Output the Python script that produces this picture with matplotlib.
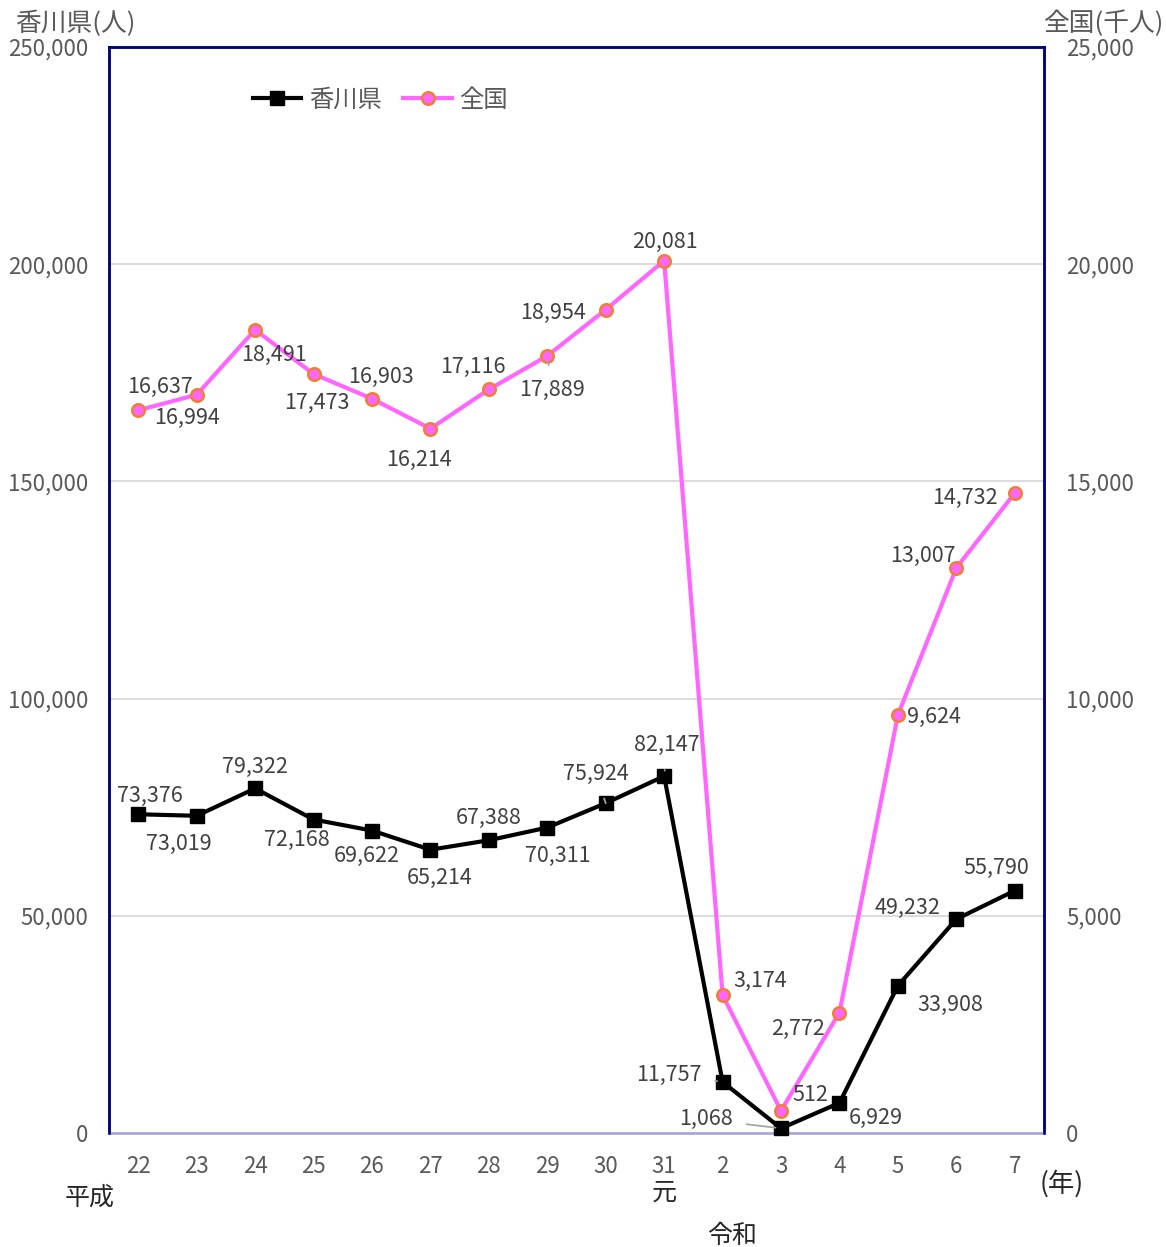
import matplotlib
matplotlib.use("Agg")
import matplotlib.pyplot as plt
import numpy as np

plt.rcParams['font.family'] = ['Noto Sans CJK JP', 'DejaVu Sans']

years = ["22", "23", "24", "25", "26", "27", "28", "29", "30", "31", "2", "3", "4", "5", "6", "7"]
kagawa = [73376, 73019, 79322, 72168, 69622, 65214, 67388, 70311, 75924, 82147,
          11757, 1068, 6929, 33908, 49232, 55790]
zenkoku = [16637, 16994, 18491, 17473, 16903, 16214, 17116, 17889, 18954, 20081,
           3174, 512, 2772, 9624, 13007, 14732]

# label offsets in pixels (dx, dy with dy positive = up), leader flag
k_off = [(12, 18, 0), (-18, -28, 0), (0, 21, 0), (-17, -20, 0), (-5, -25, 0), (9, -28, 0),
         (0, 22, 0), (10, -28, 0), (-10, 29, 1), (3, 31, 1), (-54, 7, 1), (-75, 9, 1),
         (36, -15, 0), (52, -19, 0), (-49, 11, 0), (-19, 23, 0)]
z_off = [(22, 23, 0), (-10, -23, 0), (19, -25, 0), (3, -29, 0), (9, 22, 0), (-11, -31, 0),
         (-16, 23, 0), (5, -34, 1), (-53, -3, 0), (1, 19, 0), (38, 14, 0), (29, 16, 0),
         (-42, -16, 0), (36, -2, 0), (-33, 12, 0), (-50, -5, 0)]

W, H = 1166, 1247
fig = plt.figure(figsize=(W / 100, H / 100), dpi=100)
L, R, T, B = 109, 1044, 47, 1133
ax = fig.add_axes([L / W, 1 - B / H, (R - L) / W, (B - T) / H])
ax2 = ax.twinx()

x = np.arange(len(years))
lab_color = '#404040'
tick_color = '#595959'
fs = 15.5
tfs = 16

ax.plot(x, kagawa, color='black', lw=3, marker='s', ms=10, zorder=5, label='香川県', clip_on=False)
ax2.plot(x, zenkoku, color='#ff66ff', lw=3, marker='o', ms=9, mfc='#ff66ff', mec='#f08030',
         mew=1.8, zorder=5, label='全国', clip_on=False)

ax.set_ylim(0, 250000)
ax2.set_ylim(0, 25000)
ax.set_xlim(-0.5, len(years) - 0.5)
ax.set_yticks(np.arange(0, 250001, 50000))
ax2.set_yticks(np.arange(0, 25001, 5000))
ax.set_yticklabels([f"{v:,}" for v in range(0, 250001, 50000)])
ax2.set_yticklabels([f"{v:,}" for v in range(0, 25001, 5000)])
ax.set_xticks(x)
ax.set_xticklabels(years)
ax.tick_params(axis='x', length=0, pad=16, labelsize=tfs, labelcolor=tick_color)
ax.tick_params(axis='y', length=0, pad=15, labelsize=tfs, labelcolor=tick_color)
ax2.tick_params(axis='y', length=0, pad=16, labelsize=tfs, labelcolor=tick_color)
ax.grid(axis='y', color='#d9d9d9', lw=1.3)
ax.set_axisbelow(True)

for sp in ['left', 'right', 'top']:
    ax.spines[sp].set_color('#000080')
    ax.spines[sp].set_linewidth(1.8)
    ax2.spines[sp].set_color('#000080')
    ax2.spines[sp].set_linewidth(1.8)
ax.spines['bottom'].set_color('#a9a9d6')
ax.spines['bottom'].set_linewidth(2)
ax2.spines['bottom'].set_visible(False)

def label(axis, xs, ys, offs):
    for xi, yi, (dx, dy, lead) in zip(xs, ys, offs):
        kw = {}
        if lead:
            kw['arrowprops'] = dict(arrowstyle='-', color='#a6a6a6', lw=1.3, shrinkA=8, shrinkB=4)
        axis.annotate(f"{yi:,}", (xi, yi), xytext=(dx, dy), textcoords='offset pixels',
                      ha='center', va='center', fontsize=fs, color=lab_color, zorder=10, **kw)

label(ax, x, kagawa, k_off)
label(ax2, x, zenkoku, z_off)

h1, l1 = ax.get_legend_handles_labels()
h2, l2 = ax2.get_legend_handles_labels()
leg = ax2.legend(h1 + h2, l1 + l2, loc='upper left', bbox_to_anchor=(134 / (R - L), 1 - 30 / (B - T)),
                 ncol=2, frameon=False, fontsize=17.5, handlelength=2.0, columnspacing=0.9,
                 handletextpad=0.3, borderaxespad=0)
for t in leg.get_texts():
    t.set_color(tick_color)

fig.text(15 / W, 1 - 24 / H, '香川県(人)', fontsize=18.5, color=tick_color, ha='left', va='center')
fig.text(1163 / W, 1 - 24 / H, '全国(千人)', fontsize=18.5, color=tick_color, ha='right', va='center')
fig.text(90 / W, 1 - 1198 / H, '平成', fontsize=18, color='#262626', ha='center', va='center')
fig.text(664 / W, 1 - 1193 / H, '元', fontsize=18, color='#262626', ha='center', va='center')
fig.text(732 / W, 1 - 1236 / H, '令和', fontsize=18, color='#262626', ha='center', va='center')
fig.text(1062 / W, 1 - 1184 / H, '(年)', fontsize=19, color='#262626', ha='center', va='center')

fig.savefig('out.png', dpi=100)
